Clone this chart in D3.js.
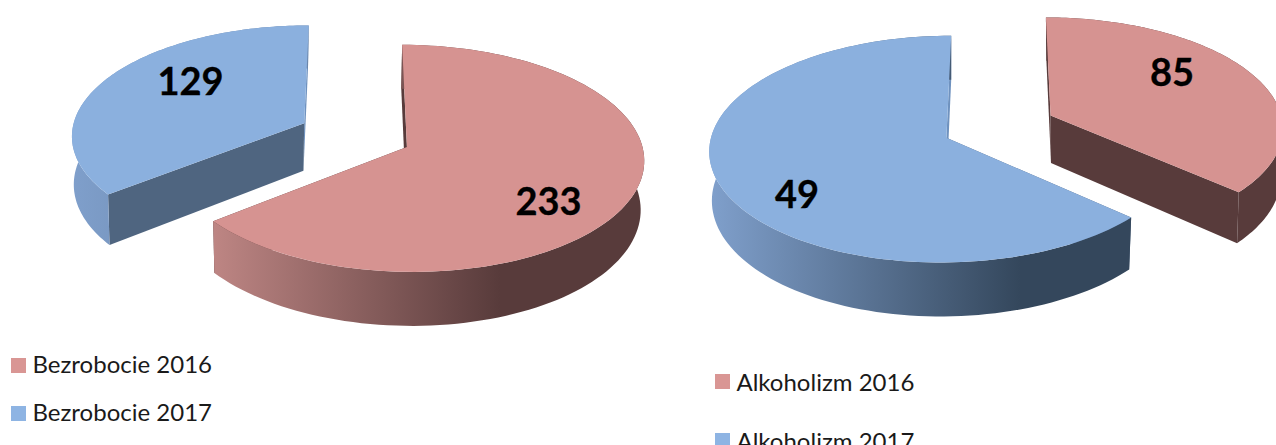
<!DOCTYPE html>
<html><head><meta charset="utf-8">
<script src="https://cdn.jsdelivr.net/npm/d3@7"></script>
<style>html,body{margin:0;padding:0;background:#fff;overflow:hidden}</style>
</head><body><svg id="c" width="1276" height="445"></svg>
<script>
const leftCategories = ["Bezrobocie 2016", "Bezrobocie 2017"];
const leftValues = [233, 129];
const leftLabels = ["233", "129"];
const rightCategories = ["Alkoholizm 2016", "Alkoholizm 2017"];
const rightValues = [49, 85];
const rightLabels = ["85", "49"];
const sliceColors = ["#d69391", "#8bb0de"];
const legendColors = ["#d99694", "#8eb4e3"];
const startWallColors = ["#583b3b", "#4f6580"];
const endWallColors = ["#583b3b", "#6f92bf"];
const wallLight = ["#bd8583", "#7f9fcb"];
const wallDark = ["#583b3b", "#34475c"];

const svg = d3.select("#c"), defs = svg.append("defs");
const Rx = 233, Ry = 110, persp = 0.1, depth = 48, shrink = 0.011, explode = 0.245;

function drawPie(o) {
  const arcs = d3.pie().sort(null).startAngle(0).endAngle(2 * Math.PI)(o.values);
  arcs.forEach((a, i) => {
    const project = (u, v, z) => {
      const s = 1 / (1 - persp * v);
      const x = o.cx + Rx * u * s;
      return [x + (o.xc[i] - x) * shrink * z, o.cy + Ry * v * s + depth * z * s];
    };
    const mid = (a.startAngle + a.endAngle) / 2;
    const ox = explode * Math.sin(mid), oy = -explode * Math.cos(mid);
    const rim = z => d3.range(0, 121).map(k => {
      const t = a.startAngle + (a.endAngle - a.startAngle) * k / 120;
      return project(ox + Math.sin(t), oy - Math.cos(t), z);
    });
    const line = d3.line();
    const g = svg.append("g");
    const apex = z => project(ox, oy, z);
    const top = rim(0), bot = rim(1);
    const id = "g" + o.id + i;
    const lg = defs.append("linearGradient").attr("id", id)
      .attr("gradientUnits", "userSpaceOnUse")
      .attr("x1", o.grad[i][0]).attr("x2", o.grad[i][1]).attr("y1", 0).attr("y2", 0);
    lg.append("stop").attr("offset", 0).attr("stop-color", o.light ? o.light[i] : wallLight[i]);
    lg.append("stop").attr("offset", 1).attr("stop-color", o.dark ? o.dark[i] : wallDark[i]);
    // radial walls
    g.append("path").attr("fill", endWallColors[i])
      .attr("d", line([apex(0), top[120], bot[120], apex(1)]) + "Z");
    g.append("path").attr("fill", startWallColors[i])
      .attr("d", line([apex(0), top[0], bot[0], apex(1)]) + "Z");
    // outer wall
    g.append("path").attr("fill", `url(#${id})`)
      .attr("d", line(top.concat(bot.slice().reverse())) + "Z");
    // top face
    g.append("path").attr("fill", sliceColors[i])
      .attr("d", line([apex(0)].concat(top)) + "Z");
  });
  arcs.forEach((a, i) => {
    svg.append("text").attr("x", o.lab[i][0]).attr("y", o.lab[i][1])
      .attr("text-anchor", "middle").attr("font-family", "Lato, sans-serif")
      .attr("font-weight", 700).attr("font-size", 38).attr("fill", "#000")
      .attr("stroke", "#000").attr("stroke-width", 0.3)
      .text(o.labels[i]);
  });
  o.categories.forEach((c, i) => {
    svg.append("rect").attr("x", o.leg[0]).attr("y", o.leg[1] + i * o.leg[2])
      .attr("width", 15).attr("height", 15).attr("fill", legendColors[i]);
    svg.append("text").attr("x", o.leg[0] + 21.5).attr("y", o.leg[1] + i * o.leg[2] + o.leg[3])
      .attr("font-family", "Lato, sans-serif").attr("font-size", 24).attr("fill", "#1a1a1a").text(c);
  });
}

drawPie({ id: "l", cx: 355, cy: 135, values: leftValues, labels: leftLabels, categories: leftCategories, xc: [320, 240],
  lab: [[548.5, 215], [190.5, 95]], leg: [11, 358, 48, 15], grad: [[215, 500], [72, 240]], dark: ["#583b3b", "#6a86ab"] });
drawPie({ id: "r", cx: 999, cy: 126.5, values: rightValues, labels: rightLabels, categories: rightCategories, xc: [1090, 950],
  lab: [[1172, 86], [797, 208]], leg: [715, 374, 59, 16.5], grad: [[1200, 1276], [712, 1020]], light: ["#583b3b", "#7f9fcb"] });
</script></body></html>
